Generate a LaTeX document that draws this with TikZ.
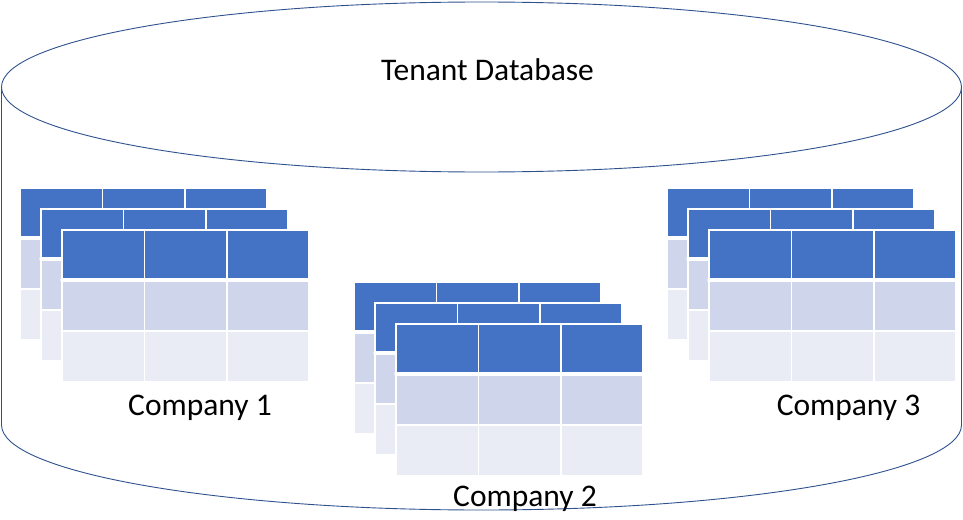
\documentclass[tikz,border=0pt]{standalone}
\usepackage{fontspec}
\setmainfont{Carlito}
\definecolor{hdr}{HTML}{4472C4}
\definecolor{rowa}{HTML}{CFD5EA}
\definecolor{rowb}{HTML}{E9EBF5}
\definecolor{edgeblue}{HTML}{2F528F}
\tikzset{
  lbl/.style={anchor=base, inner sep=0pt, font=\fontsize{31.5}{38}\selectfont},
  cyl/.style={draw=edgeblue, line width=0.9pt, fill=white},
  sep/.style={white, line width=1.6pt},
  hsep/.style={white, line width=3.5pt, line cap=round}
}
\newcommand{\dbtable}[2]{%
  \begin{scope}[shift={({#1},{-(#2)})}]
    \fill[hdr] (0,0) rectangle (247,-50);
    \fill[rowa] (0,-50) rectangle (247,-101);
    \fill[rowb] (0,-101) rectangle (247,-152);
    \draw[sep] (0,0) rectangle (247,-152);
    \draw[sep] (82.3,0) -- (82.3,-152) (164.7,0) -- (164.7,-152) (0,-101) -- (247,-101);
    \draw[hsep] (0,-50) -- (247,-50);
  \end{scope}}
\newcommand{\dbstack}[2]{%
  \dbtable{#1}{#2}%
  \dbtable{#1+21}{#2+21}%
  \dbtable{#1+42}{#2+42}}
\begin{document}
\begin{tikzpicture}[x=1pt,y=1pt]
\useasboundingbox (0,0) rectangle (963,-519);
% cylinder
\draw[cyl] (1.5,-87) -- (1.5,-425) arc[start angle=180, end angle=360, x radius=480, y radius=85] -- (961.5,-87);
\draw[cyl] (481.5,-87) ellipse[x radius=480, y radius=85];
% tables
\dbstack{20}{188}
\dbstack{354}{282}
\dbstack{667}{188}
% labels
\node[lbl] (title) at (487.5,-81) {Tenant Database};
\node[lbl] (c1) at (200,-415) {Company 1};
\node[lbl] (c2) at (525,-506) {Company 2};
\node[lbl] (c3) at (848.5,-415) {Company 3};
\end{tikzpicture}
\end{document}
